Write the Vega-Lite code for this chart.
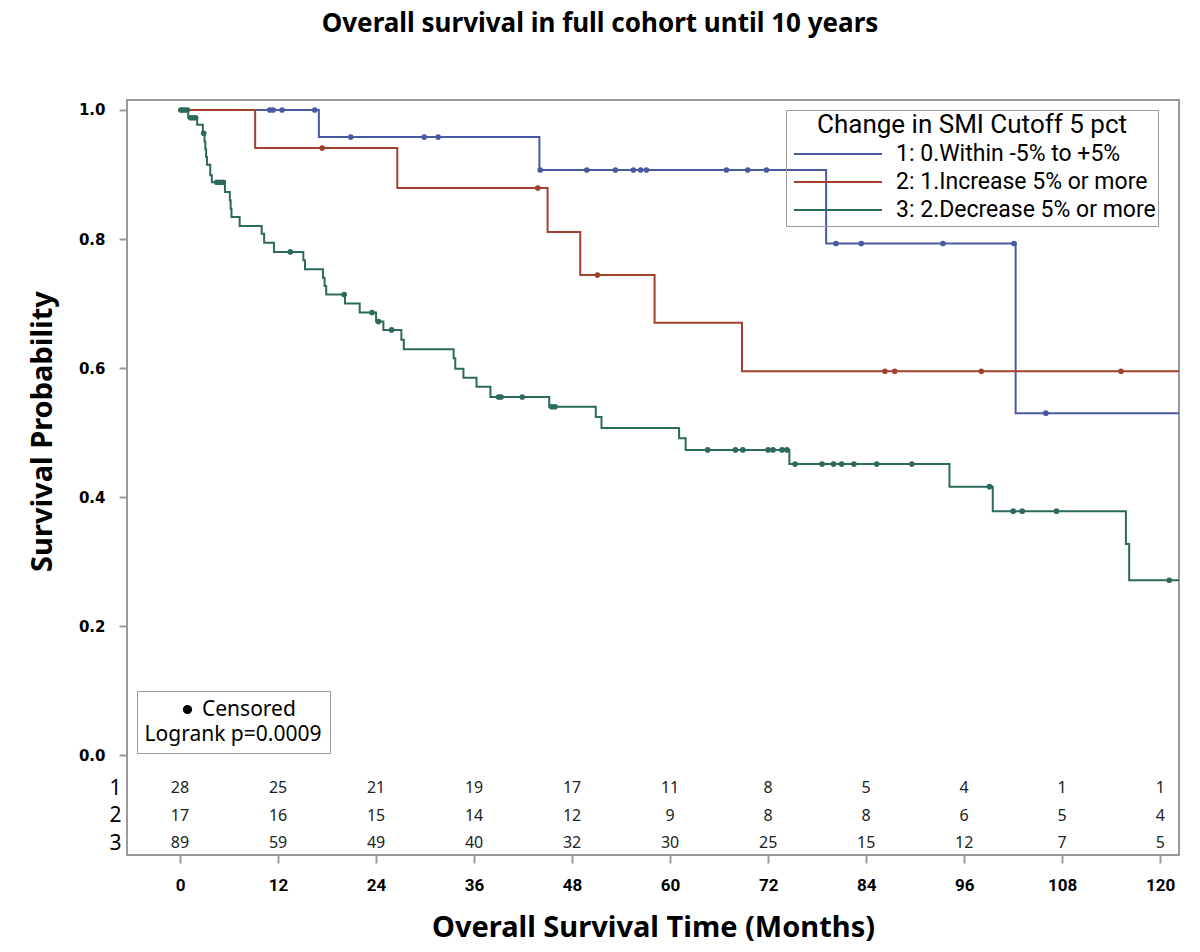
{
  "$schema": "https://vega.github.io/schema/vega-lite/v6.json",
  "width": 1052,
  "height": 755,
  "autosize": "none",
  "padding": {"left": 127, "top": 100, "right": 21, "bottom": 97},
  "background": "white",
  "title": {
    "text": "Overall survival in full cohort until 10 years",
    "font": "Noto Sans",
    "fontSize": 26,
    "fontWeight": "bold",
    "color": "#000000",
    "anchor": "middle",
    "frame": "group",
    "dx": -53,
    "offset": 63
  },
  "config": {
    "font": "Noto Sans",
    "view": {"stroke": "#9a9a9a", "strokeWidth": 2},
    "axis": {"grid": false}
  },
  "datasets": {
    "km": [
      {"group": "1: 0.Within -5% to +5%", "time": 0, "surv": 1, "status": "Start"},
      {"group": "1: 0.Within -5% to +5%", "time": 11.0, "surv": 1, "status": "Censored"},
      {"group": "1: 0.Within -5% to +5%", "time": 11.4, "surv": 1, "status": "Censored"},
      {"group": "1: 0.Within -5% to +5%", "time": 12.5, "surv": 1, "status": "Censored"},
      {"group": "1: 0.Within -5% to +5%", "time": 16.5, "surv": 1, "status": "Censored"},
      {"group": "1: 0.Within -5% to +5%", "time": 17.0, "surv": 0.958, "status": "Event"},
      {"group": "1: 0.Within -5% to +5%", "time": 20.9, "surv": 0.958, "status": "Censored"},
      {"group": "1: 0.Within -5% to +5%", "time": 29.9, "surv": 0.958, "status": "Censored"},
      {"group": "1: 0.Within -5% to +5%", "time": 31.6, "surv": 0.958, "status": "Censored"},
      {"group": "1: 0.Within -5% to +5%", "time": 44.0, "surv": 0.907, "status": "Event"},
      {"group": "1: 0.Within -5% to +5%", "time": 44.1, "surv": 0.907, "status": "Censored"},
      {"group": "1: 0.Within -5% to +5%", "time": 49.8, "surv": 0.907, "status": "Censored"},
      {"group": "1: 0.Within -5% to +5%", "time": 53.3, "surv": 0.907, "status": "Censored"},
      {"group": "1: 0.Within -5% to +5%", "time": 55.5, "surv": 0.907, "status": "Censored"},
      {"group": "1: 0.Within -5% to +5%", "time": 56.4, "surv": 0.907, "status": "Censored"},
      {"group": "1: 0.Within -5% to +5%", "time": 57.1, "surv": 0.907, "status": "Censored"},
      {"group": "1: 0.Within -5% to +5%", "time": 66.9, "surv": 0.907, "status": "Censored"},
      {"group": "1: 0.Within -5% to +5%", "time": 69.5, "surv": 0.907, "status": "Censored"},
      {"group": "1: 0.Within -5% to +5%", "time": 71.8, "surv": 0.907, "status": "Censored"},
      {"group": "1: 0.Within -5% to +5%", "time": 79.1, "surv": 0.793, "status": "Event"},
      {"group": "1: 0.Within -5% to +5%", "time": 80.3, "surv": 0.793, "status": "Censored"},
      {"group": "1: 0.Within -5% to +5%", "time": 83.4, "surv": 0.793, "status": "Censored"},
      {"group": "1: 0.Within -5% to +5%", "time": 93.4, "surv": 0.793, "status": "Censored"},
      {"group": "1: 0.Within -5% to +5%", "time": 102.1, "surv": 0.793, "status": "Censored"},
      {"group": "1: 0.Within -5% to +5%", "time": 102.3, "surv": 0.53, "status": "Event"},
      {"group": "1: 0.Within -5% to +5%", "time": 106.0, "surv": 0.53, "status": "Censored"},
      {"group": "1: 0.Within -5% to +5%", "time": 122.3, "surv": 0.53, "status": "End"},
      {"group": "2: 1.Increase 5% or more", "time": 0, "surv": 1, "status": "Start"},
      {"group": "2: 1.Increase 5% or more", "time": 9.2, "surv": 0.941, "status": "Event"},
      {"group": "2: 1.Increase 5% or more", "time": 17.4, "surv": 0.941, "status": "Censored"},
      {"group": "2: 1.Increase 5% or more", "time": 26.6, "surv": 0.879, "status": "Event"},
      {"group": "2: 1.Increase 5% or more", "time": 43.8, "surv": 0.879, "status": "Censored"},
      {"group": "2: 1.Increase 5% or more", "time": 45.0, "surv": 0.811, "status": "Event"},
      {"group": "2: 1.Increase 5% or more", "time": 49.0, "surv": 0.744, "status": "Event"},
      {"group": "2: 1.Increase 5% or more", "time": 51.1, "surv": 0.744, "status": "Censored"},
      {"group": "2: 1.Increase 5% or more", "time": 58.1, "surv": 0.67, "status": "Event"},
      {"group": "2: 1.Increase 5% or more", "time": 68.8, "surv": 0.595, "status": "Event"},
      {"group": "2: 1.Increase 5% or more", "time": 86.3, "surv": 0.595, "status": "Censored"},
      {"group": "2: 1.Increase 5% or more", "time": 87.5, "surv": 0.595, "status": "Censored"},
      {"group": "2: 1.Increase 5% or more", "time": 98.1, "surv": 0.595, "status": "Censored"},
      {"group": "2: 1.Increase 5% or more", "time": 115.2, "surv": 0.595, "status": "Censored"},
      {"group": "2: 1.Increase 5% or more", "time": 122.3, "surv": 0.595, "status": "End"},
      {"group": "3: 2.Decrease 5% or more", "time": 0, "surv": 1, "status": "Start"},
      {"group": "3: 2.Decrease 5% or more", "time": 0.1, "surv": 1, "status": "Censored"},
      {"group": "3: 2.Decrease 5% or more", "time": 0.3, "surv": 1, "status": "Censored"},
      {"group": "3: 2.Decrease 5% or more", "time": 0.6, "surv": 1, "status": "Censored"},
      {"group": "3: 2.Decrease 5% or more", "time": 0.9, "surv": 1, "status": "Censored"},
      {"group": "3: 2.Decrease 5% or more", "time": 1.0, "surv": 0.988, "status": "Event"},
      {"group": "3: 2.Decrease 5% or more", "time": 1.3, "surv": 0.988, "status": "Censored"},
      {"group": "3: 2.Decrease 5% or more", "time": 1.6, "surv": 0.988, "status": "Censored"},
      {"group": "3: 2.Decrease 5% or more", "time": 1.9, "surv": 0.988, "status": "Censored"},
      {"group": "3: 2.Decrease 5% or more", "time": 2.1, "surv": 0.977, "status": "Event"},
      {"group": "3: 2.Decrease 5% or more", "time": 2.8, "surv": 0.964, "status": "Event"},
      {"group": "3: 2.Decrease 5% or more", "time": 2.9, "surv": 0.964, "status": "Censored"},
      {"group": "3: 2.Decrease 5% or more", "time": 3.0, "surv": 0.951, "status": "Event"},
      {"group": "3: 2.Decrease 5% or more", "time": 3.1, "surv": 0.939, "status": "Event"},
      {"group": "3: 2.Decrease 5% or more", "time": 3.2, "surv": 0.927, "status": "Event"},
      {"group": "3: 2.Decrease 5% or more", "time": 3.3, "surv": 0.915, "status": "Event"},
      {"group": "3: 2.Decrease 5% or more", "time": 3.7, "surv": 0.899, "status": "Event"},
      {"group": "3: 2.Decrease 5% or more", "time": 3.9, "surv": 0.888, "status": "Event"},
      {"group": "3: 2.Decrease 5% or more", "time": 4.5, "surv": 0.888, "status": "Censored"},
      {"group": "3: 2.Decrease 5% or more", "time": 4.9, "surv": 0.888, "status": "Censored"},
      {"group": "3: 2.Decrease 5% or more", "time": 5.3, "surv": 0.888, "status": "Censored"},
      {"group": "3: 2.Decrease 5% or more", "time": 5.5, "surv": 0.873, "status": "Event"},
      {"group": "3: 2.Decrease 5% or more", "time": 6.1, "surv": 0.86, "status": "Event"},
      {"group": "3: 2.Decrease 5% or more", "time": 6.2, "surv": 0.847, "status": "Event"},
      {"group": "3: 2.Decrease 5% or more", "time": 6.3, "surv": 0.834, "status": "Event"},
      {"group": "3: 2.Decrease 5% or more", "time": 7.3, "surv": 0.82, "status": "Event"},
      {"group": "3: 2.Decrease 5% or more", "time": 10.0, "surv": 0.808, "status": "Event"},
      {"group": "3: 2.Decrease 5% or more", "time": 10.3, "surv": 0.794, "status": "Event"},
      {"group": "3: 2.Decrease 5% or more", "time": 11.5, "surv": 0.78, "status": "Event"},
      {"group": "3: 2.Decrease 5% or more", "time": 13.5, "surv": 0.78, "status": "Censored"},
      {"group": "3: 2.Decrease 5% or more", "time": 15.1, "surv": 0.767, "status": "Event"},
      {"group": "3: 2.Decrease 5% or more", "time": 15.3, "surv": 0.753, "status": "Event"},
      {"group": "3: 2.Decrease 5% or more", "time": 17.5, "surv": 0.74, "status": "Event"},
      {"group": "3: 2.Decrease 5% or more", "time": 17.7, "surv": 0.727, "status": "Event"},
      {"group": "3: 2.Decrease 5% or more", "time": 17.9, "surv": 0.714, "status": "Event"},
      {"group": "3: 2.Decrease 5% or more", "time": 20.1, "surv": 0.714, "status": "Censored"},
      {"group": "3: 2.Decrease 5% or more", "time": 20.2, "surv": 0.7, "status": "Event"},
      {"group": "3: 2.Decrease 5% or more", "time": 22.0, "surv": 0.686, "status": "Event"},
      {"group": "3: 2.Decrease 5% or more", "time": 23.5, "surv": 0.686, "status": "Censored"},
      {"group": "3: 2.Decrease 5% or more", "time": 24.0, "surv": 0.672, "status": "Event"},
      {"group": "3: 2.Decrease 5% or more", "time": 24.3, "surv": 0.672, "status": "Censored"},
      {"group": "3: 2.Decrease 5% or more", "time": 24.9, "surv": 0.659, "status": "Event"},
      {"group": "3: 2.Decrease 5% or more", "time": 25.9, "surv": 0.659, "status": "Censored"},
      {"group": "3: 2.Decrease 5% or more", "time": 27.1, "surv": 0.644, "status": "Event"},
      {"group": "3: 2.Decrease 5% or more", "time": 27.4, "surv": 0.629, "status": "Event"},
      {"group": "3: 2.Decrease 5% or more", "time": 33.5, "surv": 0.615, "status": "Event"},
      {"group": "3: 2.Decrease 5% or more", "time": 33.7, "surv": 0.599, "status": "Event"},
      {"group": "3: 2.Decrease 5% or more", "time": 34.7, "surv": 0.585, "status": "Event"},
      {"group": "3: 2.Decrease 5% or more", "time": 36.3, "surv": 0.571, "status": "Event"},
      {"group": "3: 2.Decrease 5% or more", "time": 38.0, "surv": 0.555, "status": "Event"},
      {"group": "3: 2.Decrease 5% or more", "time": 39.0, "surv": 0.555, "status": "Censored"},
      {"group": "3: 2.Decrease 5% or more", "time": 39.3, "surv": 0.555, "status": "Censored"},
      {"group": "3: 2.Decrease 5% or more", "time": 41.9, "surv": 0.555, "status": "Censored"},
      {"group": "3: 2.Decrease 5% or more", "time": 45.2, "surv": 0.54, "status": "Event"},
      {"group": "3: 2.Decrease 5% or more", "time": 45.5, "surv": 0.54, "status": "Censored"},
      {"group": "3: 2.Decrease 5% or more", "time": 45.9, "surv": 0.54, "status": "Censored"},
      {"group": "3: 2.Decrease 5% or more", "time": 50.9, "surv": 0.524, "status": "Event"},
      {"group": "3: 2.Decrease 5% or more", "time": 51.6, "surv": 0.507, "status": "Event"},
      {"group": "3: 2.Decrease 5% or more", "time": 61.1, "surv": 0.491, "status": "Event"},
      {"group": "3: 2.Decrease 5% or more", "time": 61.9, "surv": 0.473, "status": "Event"},
      {"group": "3: 2.Decrease 5% or more", "time": 64.6, "surv": 0.473, "status": "Censored"},
      {"group": "3: 2.Decrease 5% or more", "time": 68.0, "surv": 0.473, "status": "Censored"},
      {"group": "3: 2.Decrease 5% or more", "time": 68.9, "surv": 0.473, "status": "Censored"},
      {"group": "3: 2.Decrease 5% or more", "time": 72.0, "surv": 0.473, "status": "Censored"},
      {"group": "3: 2.Decrease 5% or more", "time": 72.6, "surv": 0.473, "status": "Censored"},
      {"group": "3: 2.Decrease 5% or more", "time": 73.7, "surv": 0.473, "status": "Censored"},
      {"group": "3: 2.Decrease 5% or more", "time": 74.3, "surv": 0.473, "status": "Censored"},
      {"group": "3: 2.Decrease 5% or more", "time": 74.6, "surv": 0.451, "status": "Event"},
      {"group": "3: 2.Decrease 5% or more", "time": 75.3, "surv": 0.451, "status": "Censored"},
      {"group": "3: 2.Decrease 5% or more", "time": 78.6, "surv": 0.451, "status": "Censored"},
      {"group": "3: 2.Decrease 5% or more", "time": 80.0, "surv": 0.451, "status": "Censored"},
      {"group": "3: 2.Decrease 5% or more", "time": 81.0, "surv": 0.451, "status": "Censored"},
      {"group": "3: 2.Decrease 5% or more", "time": 82.5, "surv": 0.451, "status": "Censored"},
      {"group": "3: 2.Decrease 5% or more", "time": 85.3, "surv": 0.451, "status": "Censored"},
      {"group": "3: 2.Decrease 5% or more", "time": 89.6, "surv": 0.451, "status": "Censored"},
      {"group": "3: 2.Decrease 5% or more", "time": 94.2, "surv": 0.416, "status": "Event"},
      {"group": "3: 2.Decrease 5% or more", "time": 99.1, "surv": 0.416, "status": "Censored"},
      {"group": "3: 2.Decrease 5% or more", "time": 99.5, "surv": 0.378, "status": "Event"},
      {"group": "3: 2.Decrease 5% or more", "time": 102.0, "surv": 0.378, "status": "Censored"},
      {"group": "3: 2.Decrease 5% or more", "time": 103.1, "surv": 0.378, "status": "Censored"},
      {"group": "3: 2.Decrease 5% or more", "time": 107.3, "surv": 0.378, "status": "Censored"},
      {"group": "3: 2.Decrease 5% or more", "time": 115.8, "surv": 0.327, "status": "Event"},
      {"group": "3: 2.Decrease 5% or more", "time": 116.2, "surv": 0.271, "status": "Event"},
      {"group": "3: 2.Decrease 5% or more", "time": 121.1, "surv": 0.271, "status": "Censored"},
      {"group": "3: 2.Decrease 5% or more", "time": 122.3, "surv": 0.271, "status": "End"}
    ],
    "atrisk": [
      {"row": 1, "time": 0, "n": 28}, {"row": 1, "time": 12, "n": 25}, {"row": 1, "time": 24, "n": 21},
      {"row": 1, "time": 36, "n": 19}, {"row": 1, "time": 48, "n": 17}, {"row": 1, "time": 60, "n": 11},
      {"row": 1, "time": 72, "n": 8}, {"row": 1, "time": 84, "n": 5}, {"row": 1, "time": 96, "n": 4},
      {"row": 1, "time": 108, "n": 1}, {"row": 1, "time": 120, "n": 1},
      {"row": 2, "time": 0, "n": 17}, {"row": 2, "time": 12, "n": 16}, {"row": 2, "time": 24, "n": 15},
      {"row": 2, "time": 36, "n": 14}, {"row": 2, "time": 48, "n": 12}, {"row": 2, "time": 60, "n": 9},
      {"row": 2, "time": 72, "n": 8}, {"row": 2, "time": 84, "n": 8}, {"row": 2, "time": 96, "n": 6},
      {"row": 2, "time": 108, "n": 5}, {"row": 2, "time": 120, "n": 4},
      {"row": 3, "time": 0, "n": 89}, {"row": 3, "time": 12, "n": 59}, {"row": 3, "time": 24, "n": 49},
      {"row": 3, "time": 36, "n": 40}, {"row": 3, "time": 48, "n": 32}, {"row": 3, "time": 60, "n": 30},
      {"row": 3, "time": 72, "n": 25}, {"row": 3, "time": 84, "n": 15}, {"row": 3, "time": 96, "n": 12},
      {"row": 3, "time": 108, "n": 7}, {"row": 3, "time": 120, "n": 5}
    ]
  },
  "layer": [
    {
      "data": {"name": "km"},
      "layer": [
        {
          "mark": {"type": "line", "interpolate": "step-after", "strokeWidth": 2, "clip": true},
          "encoding": {
            "x": {
              "field": "time",
              "type": "quantitative",
              "scale": {"domain": [-6.49, 122.3], "nice": false, "zero": false},
              "axis": {
                "values": [0, 12, 24, 36, 48, 60, 72, 84, 96, 108, 120],
                "domain": false,
                "ticks": true,
                "tickColor": "#9a9a9a",
                "tickWidth": 2,
                "tickSize": 8,
                "labelPadding": 14,
                "labelFont": "Roboto",
                "labelFontSize": 17,
                "labelFontWeight": "bold",
                "labelColor": "#000000",
                "title": "Overall Survival Time (Months)",
                "titleFont": "Noto Sans",
                "titleFontSize": 29,
                "titleFontWeight": "bold",
                "titleColor": "#000000",
                "titlePadding": 20
              }
            },
            "y": {
              "field": "surv",
              "type": "quantitative",
              "scale": {"domain": [-0.155, 1.0155], "nice": false, "zero": false},
              "axis": {
                "values": [0, 0.2, 0.4, 0.6, 0.8, 1.0],
                "format": ".1f",
                "domain": false,
                "ticks": true,
                "tickColor": "#9a9a9a",
                "tickWidth": 2,
                "tickSize": 8,
                "labelPadding": 14,
                "labelFont": "DejaVu Sans",
                "labelFontSize": 15,
                "labelFontWeight": "bold",
                "labelColor": "#000000",
                "title": "Survival Probability",
                "titleFont": "Noto Sans",
                "titleFontSize": 29,
                "titleFontWeight": "bold",
                "titleColor": "#000000",
                "titleAngle": -90,
                "titleAlign": "center",
                "titleBaseline": "middle",
                "titleX": -85,
                "titleY": 331
              }
            },
            "color": {
              "field": "group",
              "type": "nominal",
              "scale": {
                "domain": ["1: 0.Within -5% to +5%", "2: 1.Increase 5% or more", "3: 2.Decrease 5% or more"],
                "range": ["#4a5aa2", "#a3402f", "#2b6a5d"]
              },
              "legend": {
                "orient": "none",
                "legendX": 659,
                "legendY": 10,
                "title": "Change in SMI Cutoff 5 pct",
                "titleFont": "Roboto",
                "titleFontSize": 26,
                "titleFontWeight": "normal",
                "titleColor": "#000000",
                "titleAnchor": "middle",
                "titleLimit": 500,
                "titlePadding": 2,
                "labelFont": "Roboto",
                "labelFontSize": 23,
                "labelColor": "#000000",
                "labelLimit": 500,
                "labelOffset": 13,
                "symbolType": "stroke",
                "symbolSize": 7744,
                "symbolStrokeWidth": 2,
                "symbolOffset": 5,
                "clipHeight": 28,
                "rowPadding": 0,
                "padding": 2,
                "strokeColor": "#9a9a9a"
              }
            }
          }
        },
        {
          "transform": [{"filter": "datum.status === 'Censored'"}],
          "mark": {"type": "point", "filled": true, "size": 32, "opacity": 1},
          "encoding": {
            "x": {"field": "time", "type": "quantitative"},
            "y": {"field": "surv", "type": "quantitative"},
            "color": {"field": "group", "type": "nominal", "legend": null},
            "shape": {
              "field": "status",
              "type": "nominal",
              "scale": {"domain": ["Censored"], "range": ["circle"]},
              "legend": {
                "orient": "none",
                "legendX": 10,
                "legendY": 591,
                "title": "Logrank p=0.0009",
                "titleOrient": "bottom",
                "titleAnchor": "middle",
                "titleFont": "Noto Sans",
                "titleFontSize": 21,
                "titleFontWeight": "normal",
                "titleColor": "#000000",
                "titlePadding": 4,
                "labelFont": "Noto Sans",
                "labelFontSize": 21,
                "labelColor": "#000000",
                "labelOffset": 4,
                "symbolSize": 60,
                "symbolFillColor": "#000000",
                "symbolStrokeColor": "#000000",
                "symbolOffset": 7,
                "padding": 8,
                "strokeColor": "#9a9a9a",
                "fillColor": "white"
              }
            }
          }
        }
      ]
    },
    {
      "data": {"name": "atrisk"},
      "mark": {"type": "text", "fontSize": 16, "font": "Noto Sans", "color": "#222222", "baseline": "middle"},
      "encoding": {
        "x": {"field": "time", "type": "quantitative"},
        "y": {
          "field": "row",
          "type": "quantitative",
          "scale": {"domain": [-24.02, 3.436], "reverse": true, "nice": false, "zero": false},
          "axis": {
            "orient": "left",
            "values": [1, 2, 3],
            "format": "d",
            "domain": false,
            "ticks": false,
            "grid": false,
            "labelPadding": 6,
            "labelFont": "Noto Sans",
            "labelFontSize": 21,
            "labelFontWeight": "normal",
            "labelColor": "#000000",
            "title": null
          }
        },
        "text": {"field": "n", "type": "quantitative"}
      }
    }
  ],
  "resolve": {"scale": {"y": "independent"}, "axis": {"y": "independent"}}
}
